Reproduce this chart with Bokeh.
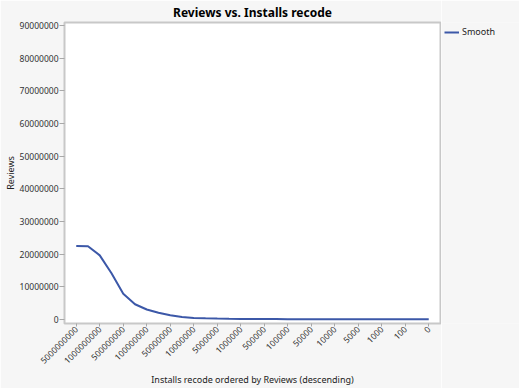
import numpy as np
from bokeh.plotting import figure
from bokeh.layouts import row
from bokeh.models import (FixedTicker, NumeralTickFormatter, Legend, LegendItem,
                          Range1d, FactorRange)
from bokeh.embed import file_html
from bokeh.resources import INLINE

# Categories (Installs recode ordered by Reviews, descending)
installs = ["5000000000", "1000000000", "500000000", "100000000", "50000000",
            "10000000", "5000000", "1000000", "500000", "100000", "50000",
            "10000", "5000", "1000", "100", "0"]
# Smooth curve read at each category
smooth_at_cat = [22.5e6, 19.6e6, 7.8e6, 3.0e6, 1.2e6, 0.4e6, 0.2e6, 0.1e6,
                 0.06e6, 0.04e6, 0.03e6, 0.02e6, 0.015e6, 0.01e6, 0.005e6, 0.0]
# Smooth curve read halfway between consecutive categories
smooth_mid = [22.4e6, 14.1e6, 4.6e6, 2.0e6, 0.7e6, 0.28e6, 0.14e6, 0.08e6,
              0.05e6, 0.035e6, 0.025e6, 0.017e6, 0.012e6, 0.007e6, 0.002e6]
y_ticks = [0, 10000000, 20000000, 30000000, 40000000, 50000000, 60000000,
           70000000, 80000000, 90000000]

FONT = "Noto Sans"
BG = "#f6f6f6"
LINE = "#3c58a8"

xs, ys = [], []
for i, v in enumerate(smooth_at_cat):
    xs.append((installs[i], 0.0)); ys.append(v)
    if i < len(smooth_mid):
        xs.append((installs[i], 0.5)); ys.append(smooth_mid[i])

p = figure(width=441, height=388, output_backend="svg", toolbar_location=None,
           x_range=FactorRange(factors=installs),
           y_range=Range1d(-1.3e6, 91e6),
           title="Reviews vs. Installs recode")

p.background_fill_color = "white"
p.border_fill_color = BG
p.outline_line_color = "#c8c8c8"
p.outline_line_width = 2
p.min_border_left = 5
p.min_border_right = 1
p.min_border_top = 0
p.min_border_bottom = 0

p.title.text_font = FONT
p.title.text_font_size = "12px"
p.title.text_font_style = "bold"
p.title.align = "center"
p.title.text_color = "black"
p.title.standoff = 3
p.title.offset = 0

p.xgrid.visible = False
p.ygrid.visible = False

r = p.line(xs, ys, line_color=LINE, line_width=2)

for ax in (p.xaxis[0], p.yaxis[0]):
    ax.axis_line_color = None
    ax.major_tick_line_color = "#a8a8a8"
    ax.minor_tick_line_color = None
    ax.major_tick_in = 0
    ax.major_label_text_font = FONT
    ax.major_label_text_font_size = "8.5px"
    ax.major_label_text_color = "#333333"
    ax.axis_label_text_font = FONT
    ax.axis_label_text_font_size = "9px"
    ax.axis_label_text_font_style = "normal"
    ax.axis_label_text_color = "#222222"

p.yaxis.ticker = FixedTicker(ticks=y_ticks)
p.yaxis.formatter = NumeralTickFormatter(format="0")
p.yaxis.axis_label = "Reviews"
p.yaxis.major_tick_out = 5
p.yaxis.major_label_standoff = 1
p.yaxis.axis_label_standoff = 0

p.xaxis.major_label_orientation = np.pi / 4
p.xaxis.major_tick_out = 3
p.xaxis.major_label_standoff = 1
p.xaxis.axis_label = "Installs recode ordered by Reviews (descending)"
p.xaxis.axis_label_standoff = 3

# legend lives in a narrow side figure to the right of the plot
pl = figure(width=78, height=388, output_backend="svg", toolbar_location=None,
            x_range=Range1d(0, 1), y_range=Range1d(0, 1))
pl.axis.visible = False
pl.grid.visible = False
pl.outline_line_color = None
pl.background_fill_color = BG
pl.border_fill_color = BG
pl.min_border = 0
pl.min_border_left = 0
pl.min_border_right = 0
pl.min_border_top = 16
pl.min_border_bottom = 0
# placeholder renderer (no visible data) that only supplies the legend key style
r_key = pl.line(np.array([np.nan]), np.array([np.nan]), line_color=LINE, line_width=2)

legend = Legend(items=[LegendItem(label="Smooth", renderers=[r_key])],
                location="top_left")
legend.border_line_color = None
legend.background_fill_alpha = 0
legend.label_text_font = FONT
legend.label_text_font_size = "9px"
legend.label_text_color = "#222222"
legend.glyph_width = 15
legend.glyph_height = 12
legend.label_standoff = 3
legend.padding = 0
legend.margin = 3
legend.spacing = 0
pl.add_layout(legend)

layout = row(p, pl)
open("out.html", "w").write(file_html(layout, INLINE))
